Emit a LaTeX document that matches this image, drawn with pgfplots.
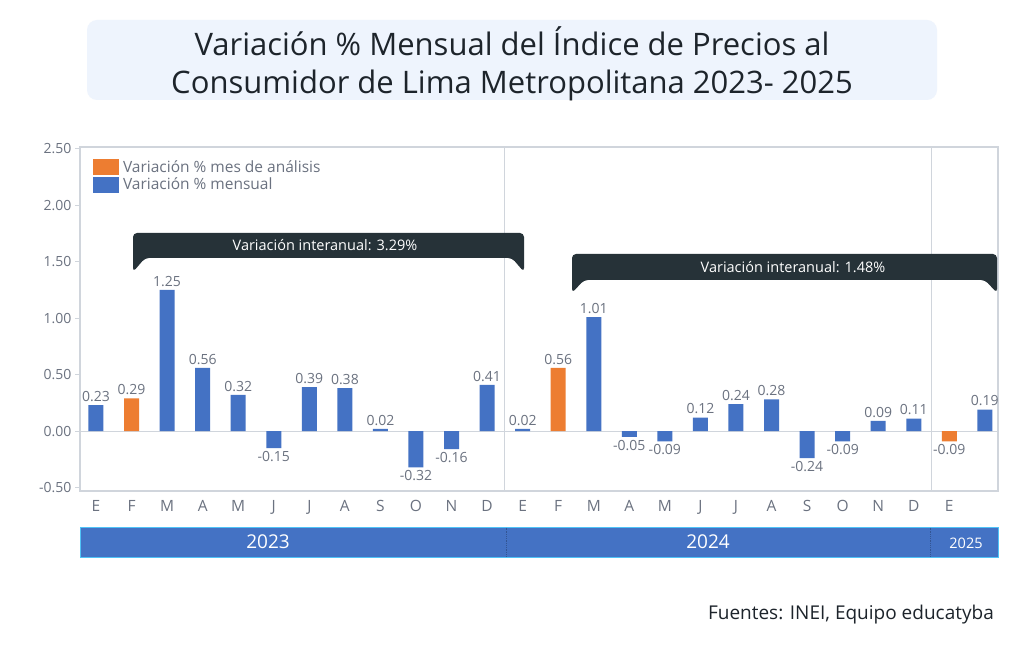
\documentclass[border=0pt]{standalone}
\usepackage{fontspec}
\setmainfont{Open Sans}
\usepackage{pgfplots}
\usepackage{pgfplotstable}
\pgfplotsset{compat=1.18}
\definecolor{bblue}{HTML}{4472C4}
\definecolor{borange}{HTML}{ED7D31}
\definecolor{tgray}{HTML}{6B7280}
\definecolor{lgray}{HTML}{D0D5DC}
\definecolor{dark}{HTML}{263238}
\definecolor{titlebg}{HTML}{EEF4FD}
\definecolor{titletext}{HTML}{1D242B}
\definecolor{bandedge}{HTML}{4FC3F7}

\pgfplotstableread{
x y
0 0.23
2 1.25
3 0.56
4 0.32
5 -0.15
6 0.39
7 0.38
8 0.02
9 -0.32
10 -0.16
11 0.41
12 0.02
14 1.01
15 -0.05
16 -0.09
17 0.12
18 0.24
19 0.28
20 -0.24
21 -0.09
22 0.09
23 0.11
25 0.19
}\blueseries
\pgfplotstableread{
x y
1 0.29
13 0.56
24 -0.09
}\orangeseries

\begin{document}
\begin{tikzpicture}[x=1pt,y=1pt]
\path[use as bounding box, fill=white] (0,0) rectangle (1024,646);
% title
\fill[titlebg, rounded corners=10pt] (87,546) rectangle (937,626);
\node[font=\fontsize{31}{38}\selectfont, text=titletext, anchor=base, inner sep=0pt] at (512,590) {Variación \% Mensual del Índice de Precios al};
\node[font=\fontsize{31}{38}\selectfont, text=titletext, anchor=base, inner sep=0pt] at (512,552) {Consumidor de Lima Metropolitana 2023- 2025};

\begin{axis}[
  at={(80pt,155pt)}, anchor=south west, scale only axis,
  width=918pt, height=344pt,
  xmin=-0.45, xmax=25.37, ymin=-0.53, ymax=2.515,
  axis line style={lgray, line width=1.2pt},
  ytick={-0.5,0,0.5,1,1.5,2,2.5},
  y tick label style={/pgf/number format/fixed, /pgf/number format/fixed zerofill, /pgf/number format/precision=2, /pgf/number format/assume math mode=true, font=\fontsize{14}{15}\selectfont, text=tgray},
  ytick pos=left, tick align=outside, major tick length=5pt,
  y tick style={lgray, line width=1pt},
  xtick={0,...,24},
  xticklabels={E,F,M,A,M,J,J,A,S,O,N,D,E,F,M,A,M,J,J,A,S,O,N,D,E},
  x tick style={draw=none},
  x tick label style={font=\fontsize{15.5}{16}\selectfont, text=tgray, yshift=-1pt},
  ybar, bar width=15pt,
  nodes near coords={\pgfmathprintnumber[fixed,fixed zerofill,precision=2,assume math mode=true]{\pgfplotspointmeta}},
  nodes near coords align=vertical,
  every node near coord/.append style={font=\fontsize{14}{15}\selectfont, text=tgray},
  legend style={at={(0.014,0.967)}, anchor=north west, draw=none, fill=none,
    font=\fontsize{15.5}{16}\selectfont, text=tgray, inner sep=0pt, row sep=0pt},
  legend cell align=left,
  legend image code/.code={\fill[#1] (0pt,-8pt) rectangle (26pt,8pt);},
]
\draw[lgray, line width=1.2pt] ({rel axis cs:0,0}|-{axis cs:0,0}) -- ({rel axis cs:1,0}|-{axis cs:0,0});
\draw[lgray, line width=1.2pt] ({axis cs:11.5,0}|-{rel axis cs:0,0}) -- ({axis cs:11.5,0}|-{rel axis cs:0,1});
\draw[lgray, line width=1.2pt] ({axis cs:23.5,0}|-{rel axis cs:0,0}) -- ({axis cs:23.5,0}|-{rel axis cs:0,1});
\addplot[fill=borange, draw=none, bar shift=0pt] table[x=x,y=y] {\orangeseries};
\addplot[fill=bblue, draw=none, bar shift=0pt] table[x=x,y=y] {\blueseries};
\legend{\hspace{2pt}Variación \% mes de análisis, \hspace{2pt}Variación \% mensual}
\end{axis}

% callouts
\fill[dark, rounded corners=4pt] (133,374) -- (133,413) -- (524,413) -- (524,374) -- (512,388) -- (145,388) -- cycle;
\node[text=white, font=\fontsize{14.5}{15}\selectfont] at (325,400.5) {Variación interanual: 3.29\%};
\fill[dark, rounded corners=4pt] (572,353) -- (572,392) -- (997,392) -- (997,353) -- (985,366) -- (584,366) -- cycle;
\node[text=white, font=\fontsize{14.5}{15}\selectfont] at (793,379) {Variación interanual: 1.48\%};

% year band
\fill[bblue] (80,89) rectangle (998,119);
\draw[bandedge, line width=1pt] (80,89) rectangle (998,119);
\draw[black!25!bblue, densely dotted, line width=0.8pt] (506,89.5) -- (506,118.5);
\draw[black!25!bblue, densely dotted, line width=0.8pt] (930,89.5) -- (930,118.5);
\node[text=white, font=\fontsize{19}{20}\selectfont] at (268,104) {2023};
\node[text=white, font=\fontsize{19}{20}\selectfont] at (708,104) {2024};
\node[text=white, font=\fontsize{14.5}{16}\selectfont] at (966,103) {2025};

% source
\node[anchor=east, text=titletext, font=\fontsize{19}{20}\selectfont, inner sep=0pt] at (994,31) {Fuentes: INEI, Equipo educatyba};
\end{tikzpicture}
\end{document}
